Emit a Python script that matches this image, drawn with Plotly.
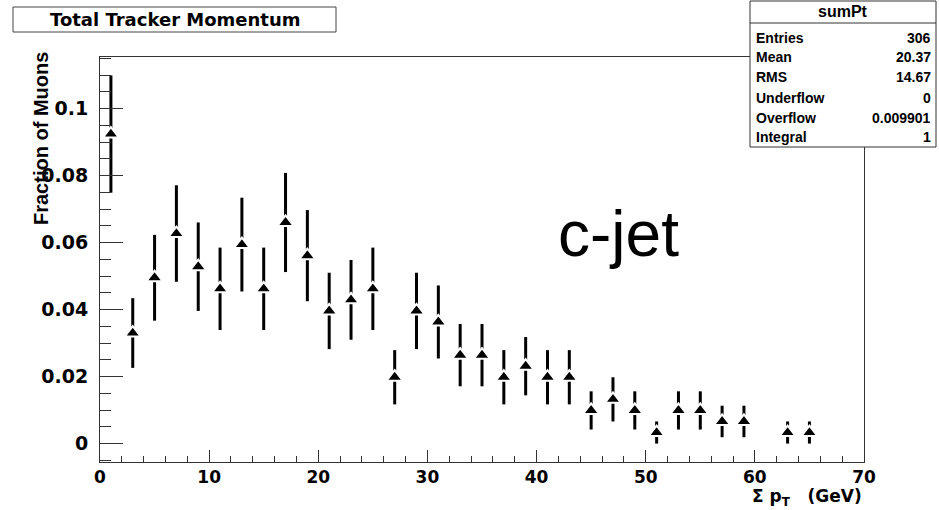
import plotly.graph_objects as go

# Bin centres (GeV) of the summed tracker pT histogram, 2 GeV bins
sum_pt = [1, 3, 5, 7, 9, 11, 13, 15, 17, 19, 21, 23, 25, 27, 29, 31, 33,
          35, 37, 39, 41, 43, 45, 47, 49, 51, 53, 55, 57, 59, 63, 65]
# Normalised fraction of muons per bin
fraction = [0.0924, 0.0330, 0.0495, 0.0627, 0.0528, 0.0462, 0.0594, 0.0462,
            0.0660, 0.0561, 0.0396, 0.0429, 0.0462, 0.0198, 0.0396, 0.0363,
            0.0264, 0.0264, 0.0198, 0.0231, 0.0198, 0.0198, 0.0099, 0.0132,
            0.0099, 0.0033, 0.0099, 0.0099, 0.0066, 0.0066, 0.0033, 0.0033]
# Statistical uncertainty per bin
uncert = [0.0175, 0.0104, 0.0128, 0.0144, 0.0132, 0.0123, 0.0140, 0.0123,
          0.0148, 0.0136, 0.0114, 0.0119, 0.0123, 0.0081, 0.0114, 0.0109,
          0.0093, 0.0093, 0.0081, 0.0087, 0.0081, 0.0081, 0.0057, 0.0066,
          0.0057, 0.0033, 0.0057, 0.0057, 0.0047, 0.0047, 0.0033, 0.0033]

stat_labels = ["Entries", "Mean", "RMS", "Underflow", "Overflow", "Integral"]
stat_values = ["306", "20.37", "14.67", "0", "0.009901", "1"]

W, H = 939, 510
L, R, T, B = 100, 864, 57, 462   # plot frame in pixels


def px(x):
    return (x - L) / (R - L)


def py(y):
    return (B - y) / (B - T)


fig = go.Figure()
fig.add_trace(go.Scatter(
    x=sum_pt, y=fraction, mode="markers",
    marker=dict(symbol="triangle-up", size=14, color="black",
                line=dict(color="white", width=2)),
    error_y=dict(type="data", array=uncert, visible=True,
                 thickness=3, width=0, color="black"),
    showlegend=False,
))

frame_col = "#333333"

fig.update_xaxes(
    range=[0, 70], dtick=10, tick0=0, ticks="inside", ticklen=12,
    tickwidth=1, tickcolor=frame_col, showgrid=False, zeroline=False,
    showline=True, linecolor=frame_col, linewidth=1, mirror=True,
    tickfont=dict(family="DejaVu Sans", size=17, color="black",
                  weight="bold"),
    ticklabelstandoff=0,
    minor=dict(dtick=2, ticks="inside", ticklen=6, tickcolor=frame_col,
               showgrid=False),
)
fig.update_yaxes(
    range=[-0.0055, 0.1154], tickvals=[0, 0.02, 0.04, 0.06, 0.08, 0.1],
    ticktext=["0", "0.02", "0.04", "0.06", "0.08", "0.1"],
    ticks="inside", ticklen=23, tickwidth=1, tickcolor=frame_col,
    showgrid=False, zeroline=False, showline=True, linecolor=frame_col,
    linewidth=1, mirror=True,
    tickfont=dict(family="DejaVu Sans", size=19, color="black",
                  weight="bold"),
    ticklabelstandoff=7,
    minor=dict(dtick=0.005, tick0=0, ticks="inside", ticklen=11,
               tickcolor=frame_col, showgrid=False),
)

shapes = []
annotations = []

# Title box
shapes.append(dict(type="rect", xref="paper", yref="paper",
                   x0=px(13), x1=px(336), y0=py(32), y1=py(7),
                   fillcolor="white", line=dict(color="#444444", width=1),
                   layer="above"))
annotations.append(dict(xref="paper", yref="paper", x=px(175), y=py(20),
                        text="Total Tracker Momentum", showarrow=False,
                        xanchor="center", yanchor="middle",
                        font=dict(family="DejaVu Sans", size=18,
                                  color="black", weight="bold")))

# Statistics box
box_l, box_r, box_t, box_b = 750, 936, 1, 147
shapes.append(dict(type="rect", xref="paper", yref="paper",
                   x0=px(box_l), x1=px(box_r), y0=py(box_b), y1=py(box_t),
                   fillcolor="white", line=dict(color="#333333", width=1),
                   layer="above"))
shapes.append(dict(type="line", xref="paper", yref="paper",
                   x0=px(box_l), x1=px(box_r), y0=py(23), y1=py(23),
                   line=dict(color="#333333", width=1), layer="above"))
stat_font = dict(family="Liberation Sans", size=14, color="black",
                 weight="bold")
annotations.append(dict(xref="paper", yref="paper", x=px(843), y=py(12),
                        text="sumPt", showarrow=False, xanchor="center",
                        yanchor="middle",
                        font=dict(family="Liberation Sans", size=16,
                                  color="black", weight="bold")))
row_y = [38, 57.5, 77, 98, 117.5, 137]
for lab, val, yc in zip(stat_labels, stat_values, row_y):
    annotations.append(dict(xref="paper", yref="paper", x=px(754), y=py(yc),
                            text=lab, showarrow=False, xanchor="left",
                            yanchor="middle", font=stat_font))
    annotations.append(dict(xref="paper", yref="paper", x=px(933), y=py(yc),
                            text=val, showarrow=False, xanchor="right",
                            yanchor="middle", font=stat_font))

# Axis titles
annotations.append(dict(xref="paper", yref="paper", x=px(41), y=py(139),
                        text="Fraction of Muons", showarrow=False,
                        textangle=-90, xanchor="center", yanchor="middle",
                        font=dict(family="Liberation Sans", size=20,
                                  color="black", weight=600)))
annotations.append(dict(xref="paper", yref="paper", x=px(864), y=py(497),
                        text="Σ p<sub>T</sub>   (GeV)", showarrow=False,
                        xanchor="right", yanchor="middle",
                        font=dict(family="DejaVu Sans", size=17,
                                  color="black", weight="bold")))

# Sample label
annotations.append(dict(xref="paper", yref="paper", x=px(618), y=py(234),
                        text="c-jet", showarrow=False, xanchor="center",
                        yanchor="middle",
                        font=dict(family="Liberation Sans", size=64,
                                  color="black")))

fig.update_layout(
    width=W, height=H,
    margin=dict(l=L, r=W - R, t=T, b=H - B, pad=0),
    paper_bgcolor="white", plot_bgcolor="white",
    shapes=shapes, annotations=annotations,
)

fig.write_html("out.html")
